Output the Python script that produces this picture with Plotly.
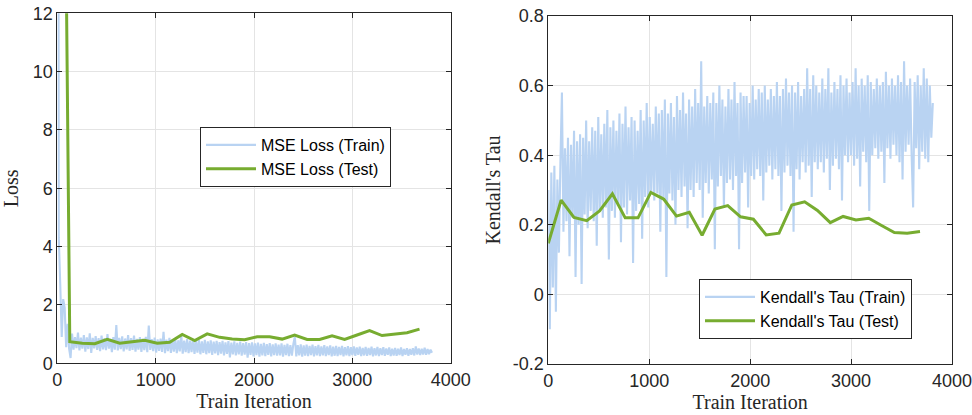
import numpy as np
import plotly.graph_objects as go

# ---------------- data ----------------
ITER_STEP = 15          # spacing of the sampled training values (iterations)
TEST_INTERVAL = 127     # iterations between test evaluations

mse_train = [
    60.0, 4.3, 2.7, 0.9, 2.2, 1.9, 0.55, 1.35, 0.5, 0.18,
    1.02, 0.47, 0.90, 0.52, 1.05, 0.44, 0.88, 0.50, 0.97, 0.40,
    0.89, 0.49, 1.03, 0.36, 0.87, 0.51, 0.93, 0.46, 0.86, 0.42,
    0.95, 0.48, 0.86, 0.45, 1.00, 0.50, 0.84, 0.38, 0.90, 0.47,
    1.31, 0.44, 0.87, 0.49, 0.92, 0.41, 0.85, 0.48, 0.97, 0.43,
    0.86, 0.46, 0.95, 0.40, 0.84, 0.47, 0.90, 0.39, 0.85, 0.45,
    0.91, 0.38, 1.29, 0.46, 0.83, 0.42, 0.88, 0.37, 0.82, 0.43,
    0.85, 0.39, 1.08, 0.35, 0.81, 0.42, 0.87, 0.36, 0.80, 0.40,
    0.84, 0.35, 0.79, 0.41, 0.98, 0.33, 0.78, 0.38, 0.83, 0.35,
    0.78, 0.38, 0.82, 0.32, 0.77, 0.37, 0.80, 0.31, 0.75, 0.36,
    0.80, 0.31, 0.75, 0.35, 0.79, 0.29, 0.74, 0.34, 0.77, 0.28,
    0.73, 0.33, 0.77, 0.27, 0.72, 0.32, 0.76, 0.20, 0.71, 0.31,
    0.75, 0.27, 0.70, 0.31, 0.74, 0.26, 0.69, 0.30, 0.73, 0.19,
    0.69, 0.29, 0.72, 0.24, 0.68, 0.28, 0.71, 0.23, 0.67, 0.27,
    0.70, 0.25, 0.66, 0.29, 0.69, 0.24, 0.65, 0.28, 0.68, 0.26,
    0.64, 0.27, 0.68, 0.23, 0.63, 0.28, 0.67, 0.25, 0.62, 0.26,
    0.66, 0.91, 0.24, 0.62, 0.27, 0.65, 0.23, 0.61, 0.26, 0.64,
    0.25, 0.60, 0.28, 0.64, 0.24, 0.59, 0.27, 0.63, 0.25, 0.58,
    0.27, 0.62, 0.25, 0.58, 0.28, 0.61, 0.24, 0.57, 0.26, 0.60,
    0.25, 0.56, 0.28, 0.60, 0.24, 0.55, 0.27, 0.59, 0.25, 0.55,
    0.28, 0.58, 0.26, 0.54, 0.29, 0.57, 0.25, 0.53, 0.27, 0.56,
    0.26, 0.53, 0.28, 0.57, 0.24, 0.52, 0.27, 0.56, 0.25, 0.52,
    0.28, 0.55, 0.26, 0.51, 0.29, 0.54, 0.25, 0.50, 0.27, 0.53,
    0.26, 0.50, 0.28, 0.54, 0.25, 0.49, 0.29, 0.52, 0.26, 0.49,
    0.29, 0.52, 0.27, 0.58, 0.30, 0.51, 0.28, 0.50, 0.30, 0.53,
    0.29, 0.49, 0.31, 0.47, 0.36,
]

mse_test = [
    45.0, 0.74, 0.69, 0.67, 0.82, 0.69, 0.74, 0.79, 0.69, 0.72,
    0.99, 0.78, 1.01, 0.89, 0.83, 0.81, 0.91, 0.91, 0.83, 0.97,
    0.82, 0.82, 0.94, 0.82, 0.97, 1.12, 0.95, 1.01, 1.05, 1.17,
]

tau_train = [
    0.30, -0.10, 0.35, 0.02, 0.37, -0.05, 0.33, 0.12, 0.38, 0.58,
    0.18, 0.42, 0.21, 0.45, 0.11, 0.43, 0.22, 0.47, 0.05, 0.44,
    0.20, 0.46, 0.03, 0.45, 0.23, 0.50, 0.19, 0.44, 0.24, 0.48,
    0.21, 0.47, 0.14, 0.51, 0.24, 0.46, 0.22, 0.49, 0.25, 0.53,
    0.10, 0.48, 0.24, 0.50, 0.22, 0.47, 0.26, 0.52, 0.15, 0.49,
    0.25, 0.54, 0.23, 0.48, 0.27, 0.51, 0.09, 0.50, 0.24, 0.47,
    0.26, 0.53, 0.16, 0.50, 0.28, 0.55, 0.25, 0.51, 0.29, 0.49,
    0.27, 0.54, 0.29, 0.52, 0.18, 0.53, 0.28, 0.56, 0.05, 0.52,
    0.29, 0.55, 0.27, 0.51, 0.20, 0.57, 0.30, 0.53, 0.28, 0.58,
    0.31, 0.52, 0.19, 0.56, 0.30, 0.54, 0.28, 0.59, 0.32, 0.55,
    0.30, 0.67, 0.22, 0.54, 0.32, 0.57, 0.29, 0.55, 0.33, 0.58,
    0.13, 0.55, 0.31, 0.60, 0.34, 0.56, 0.25, 0.54, 0.32, 0.59,
    0.33, 0.56, 0.30, 0.61, 0.34, 0.55, 0.13, 0.58, 0.32, 0.57,
    0.35, 0.57, 0.25, 0.55, 0.34, 0.60, 0.33, 0.56, 0.36, 0.59,
    0.34, 0.58, 0.27, 0.60, 0.35, 0.56, 0.37, 0.59, 0.33, 0.57,
    0.36, 0.61, 0.34, 0.57, 0.24, 0.59, 0.35, 0.62, 0.37, 0.58,
    0.34, 0.60, 0.18, 0.58, 0.36, 0.61, 0.33, 0.57, 0.38, 0.59,
    0.35, 0.65, 0.37, 0.59, 0.28, 0.63, 0.38, 0.60, 0.36, 0.58,
    0.38, 0.62, 0.35, 0.59, 0.39, 0.65, 0.30, 0.58, 0.37, 0.61,
    0.39, 0.59, 0.36, 0.63, 0.27, 0.60, 0.40, 0.62, 0.38, 0.58,
    0.40, 0.61, 0.37, 0.65, 0.39, 0.60, 0.31, 0.62, 0.41, 0.60,
    0.38, 0.63, 0.24, 0.61, 0.40, 0.59, 0.42, 0.62, 0.39, 0.60,
    0.41, 0.61, 0.32, 0.64, 0.42, 0.60, 0.39, 0.62, 0.43, 0.60,
    0.40, 0.63, 0.38, 0.61, 0.33, 0.67, 0.41, 0.60, 0.43, 0.62,
    0.40, 0.25, 0.61, 0.42, 0.63, 0.36, 0.60, 0.41, 0.65, 0.39,
    0.62, 0.38, 0.60, 0.45, 0.55,
]

tau_test = [
    0.147, 0.271, 0.221, 0.212, 0.240, 0.289, 0.220, 0.220, 0.293, 0.274,
    0.225, 0.236, 0.170, 0.245, 0.255, 0.223, 0.216, 0.171, 0.176, 0.257,
    0.266, 0.241, 0.206, 0.224, 0.214, 0.219, 0.198, 0.178, 0.176, 0.181,
]

x_ticks = [0, 1000, 2000, 3000, 4000]
loss_ticks = [0, 2, 4, 6, 8, 10, 12]
tau_ticks = [-0.2, 0, 0.2, 0.4, 0.6, 0.8]
tau_tick_text = ["-0.2", "0", "0.2", "0.4", "0.6", "0.8"]

# ---------------- styling ----------------
TRAIN_COLOR = "#b9d3f2"
TEST_COLOR = "#77ac30"
AXIS_COLOR = "#262626"
GRID_COLOR = "#e4e4e4"
TICK_FONT = dict(family="Liberation Sans, Arial, sans-serif", size=18, color=AXIS_COLOR)
TITLE_FONT = dict(family="Liberation Serif, Times New Roman, serif", size=20, color=AXIS_COLOR)
LEGEND_FONT = dict(family="Liberation Sans, Arial, sans-serif", size=16, color="#000000")

W, H = 972, 415

def xfrac(px):
    return px / W

def yfrac(py):
    return 1 - py / H

x_mse_train = np.arange(len(mse_train)) * ITER_STEP
x_mse_test = np.arange(len(mse_test)) * TEST_INTERVAL
x_tau_train = np.arange(len(tau_train)) * ITER_STEP
x_tau_test = np.arange(len(tau_test)) * TEST_INTERVAL

fig = go.Figure()
fig.add_trace(go.Scatter(x=x_mse_train, y=mse_train, mode="lines", name="MSE Loss (Train)",
                         line=dict(color=TRAIN_COLOR, width=2.1), xaxis="x", yaxis="y", legend="legend"))
fig.add_trace(go.Scatter(x=x_mse_test, y=mse_test, mode="lines", name="MSE Loss (Test)",
                         line=dict(color=TEST_COLOR, width=3), xaxis="x", yaxis="y", legend="legend"))
fig.add_trace(go.Scatter(x=x_tau_train, y=tau_train, mode="lines", name="Kendall's Tau (Train)",
                         line=dict(color=TRAIN_COLOR, width=2.1), xaxis="x2", yaxis="y2", legend="legend2"))
fig.add_trace(go.Scatter(x=x_tau_test, y=tau_test, mode="lines", name="Kendall's Tau (Test)",
                         line=dict(color=TEST_COLOR, width=3), xaxis="x2", yaxis="y2", legend="legend2"))

common_axis = dict(
    showline=True, linecolor=AXIS_COLOR, linewidth=1, mirror="ticks",
    ticks="inside", ticklen=5, tickwidth=1, tickcolor=AXIS_COLOR,
    showgrid=True, gridcolor=GRID_COLOR, gridwidth=1, zeroline=False,
    tickfont=TICK_FONT, automargin=False, ticklabeloverflow="allow",
)

fig.update_layout(
    width=W, height=H,
    margin=dict(l=0, r=0, t=0, b=0),
    paper_bgcolor="white", plot_bgcolor="white",
    xaxis=dict(domain=[xfrac(57.3), xfrac(450.7)], range=[0, 4000], tickvals=x_ticks,
               anchor="y", title=dict(text="Train Iteration", font=TITLE_FONT, standoff=4),
               **common_axis),
    yaxis=dict(domain=[yfrac(363.3), yfrac(13.3)], range=[0, 12], tickvals=loss_ticks,
               anchor="x", title=dict(text="Loss", font=TITLE_FONT, standoff=8),
               **common_axis),
    xaxis2=dict(domain=[xfrac(548.3), xfrac(952)], range=[0, 4000], tickvals=x_ticks,
                anchor="y2", title=dict(text="Train Iteration", font=TITLE_FONT, standoff=4),
                **common_axis),
    yaxis2=dict(domain=[yfrac(364), yfrac(16)], range=[-0.2, 0.8], tickvals=tau_ticks,
                ticktext=tau_tick_text, anchor="x2",
                title=dict(text="Kendall's Tau", font=TITLE_FONT, standoff=6),
                **common_axis),
    legend=dict(x=xfrac(200), y=yfrac(127), xanchor="left", yanchor="top",
                bgcolor="white", bordercolor=AXIS_COLOR, borderwidth=1,
                font=LEGEND_FONT, tracegroupgap=0, itemwidth=50),
    legend2=dict(x=xfrac(699), y=yfrac(279), xanchor="left", yanchor="top",
                 bgcolor="white", bordercolor=AXIS_COLOR, borderwidth=1,
                 font=LEGEND_FONT, tracegroupgap=0, itemwidth=50),
    showlegend=True,
)

fig.write_html("out.html")
